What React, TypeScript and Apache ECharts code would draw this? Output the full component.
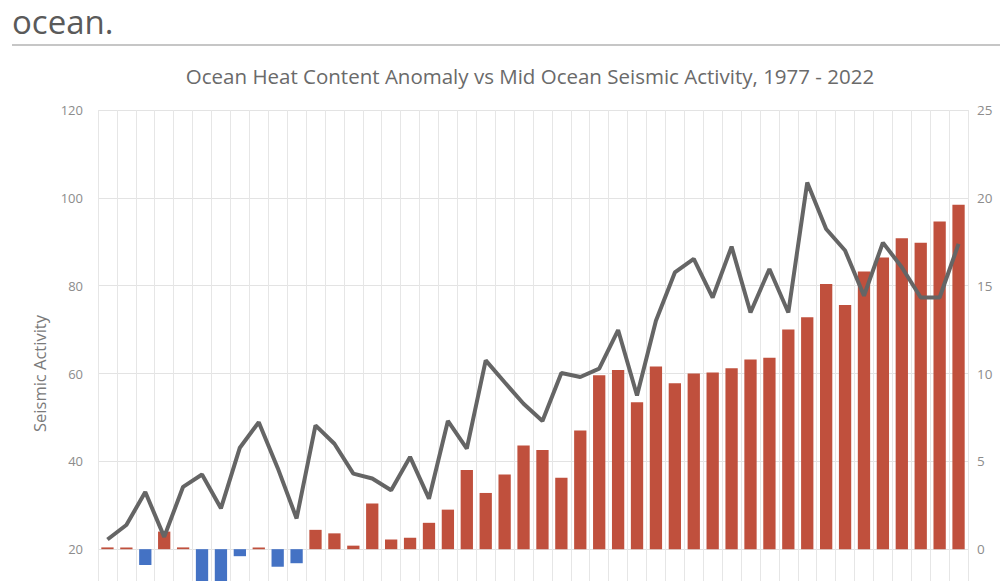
import React, { useEffect, useRef } from "react";
import * as echarts from "echarts";

const years: string[] = [];
for (let y = 1977; y <= 2022; y++) years.push(String(y));

// Ocean heat content anomaly (bars, right axis)
const heatAnomaly = [
  0.1, 0.1, -0.9, 1.0, 0.1, -3.0, -3.0, -0.4, 0.1, -1.0,
  -0.8, 1.1, 0.9, 0.2, 2.6, 0.55, 0.65, 1.5, 2.25, 4.5,
  3.2, 4.25, 5.9, 5.65, 4.07, 6.75, 9.9, 10.2, 8.37, 10.4,
  9.45, 10.0, 10.05, 10.3, 10.8, 10.9, 12.5, 13.2, 15.1, 13.9,
  15.8, 16.6, 17.7, 17.45, 18.65, 19.6,
];

// Mid ocean seismic activity (line, left axis)
const seismic = [
  22.2, 25.5, 33.0, 22.8, 34.2, 37.0, 29.3, 43.1, 48.9, 38.5,
  27.0, 48.2, 44.0, 37.2, 36.1, 33.4, 41.0, 31.5, 49.2, 42.9,
  63.0, 58.0, 53.1, 49.2, 60.1, 59.2, 61.1, 69.9, 55.0, 72.0,
  83.0, 86.1, 77.3, 88.9, 73.9, 83.8, 73.9, 103.5, 92.9, 88.0,
  77.7, 89.8, 84.2, 77.3, 77.3, 89.5,
];

const leftTicks = { min: 0, max: 120, interval: 20 };
const rightTicks = { min: -5, max: 25, interval: 5 };

const heading = "ocean.";
const chartTitle =
  "Ocean Heat Content Anomaly vs Mid Ocean Seismic Activity, 1977 - 2022";

const FONT = '"Open Sans", "Noto Sans", sans-serif';

export default function App() {
  const ref = useRef<HTMLDivElement>(null);

  useEffect(() => {
    if (!ref.current) return;
    const chart = echarts.init(ref.current, undefined, { renderer: "svg" });
    chart.setOption({
      animation: false,
      backgroundColor: "#ffffff",
      textStyle: { fontFamily: FONT },
      graphic: [
        {
          type: "text",
          x: 12,
          y: 21,
          style: {
            text: heading,
            font: `33px ${FONT}`,
            fill: "#5a5a5a",
            align: "left",
            verticalAlign: "middle",
          },
        },
        {
          type: "line",
          shape: { x1: 12, y1: 45, x2: 1000, y2: 45 },
          style: { stroke: "#c6c6c6", lineWidth: 2 },
        },
        {
          type: "text",
          x: 530,
          y: 76,
          style: {
            text: chartTitle,
            font: `20.5px ${FONT}`,
            fill: "#6a6a6a",
            align: "center",
            verticalAlign: "middle",
          },
        },
      ],
      grid: { left: 98, top: 110, width: 870, height: 527 },
      xAxis: {
        type: "category",
        data: years,
        boundaryGap: true,
        axisLine: { show: false },
        axisTick: { show: false },
        axisLabel: { show: false },
        splitLine: { show: true, interval: 0, lineStyle: { color: "#e6e6e6", width: 1 } },
      },
      yAxis: [
        {
          type: "value",
          min: leftTicks.min,
          max: leftTicks.max,
          interval: leftTicks.interval,
          name: "Seismic Activity",
          nameLocation: "middle",
          nameRotate: 90,
          nameGap: 50,
          nameTextStyle: { fontSize: 16.5, color: "#7a7a7a", fontFamily: FONT },
          axisLine: { show: false },
          axisTick: { show: false },
          axisLabel: {
            fontSize: 13,
            color: "#8c8c8c",
            margin: 15,
            fontFamily: FONT,
            formatter: (v: number) => (v === leftTicks.min ? "" : String(v)),
          },
          splitLine: { show: true, lineStyle: { color: "#e3e3e3", width: 1 } },
        },
        {
          type: "value",
          min: rightTicks.min,
          max: rightTicks.max,
          interval: rightTicks.interval,
          position: "right",
          axisLine: { show: false },
          axisTick: { show: false },
          axisLabel: {
            fontSize: 13.5,
            color: "#8c8c8c",
            margin: 9,
            fontFamily: FONT,
            formatter: (v: number) => (v === rightTicks.min ? "" : String(v)),
          },
          splitLine: { show: false },
        },
      ],
      series: [
        {
          name: "Ocean Heat Content Anomaly",
          type: "bar",
          yAxisIndex: 1,
          data: heatAnomaly,
          barCategoryGap: "35%",
          itemStyle: {
            color: (p: any) => (p.value < 0 ? "#4472c4" : "#c0503d"),
          },
        },
        {
          name: "Mid Ocean Seismic Activity",
          type: "line",
          yAxisIndex: 0,
          data: seismic,
          symbol: "none",
          lineStyle: { color: "#656565", width: 4 },
          itemStyle: { color: "#656565" },
        },
      ],
    });
    return () => chart.dispose();
  }, []);

  return (
    <div
      style={{
        position: "fixed",
        left: 0,
        top: 0,
        width: 1000,
        height: 581,
        overflow: "hidden",
        background: "#ffffff",
      }}
    >
      <div ref={ref} style={{ width: 1000, height: 700 }} />
    </div>
  );
}
